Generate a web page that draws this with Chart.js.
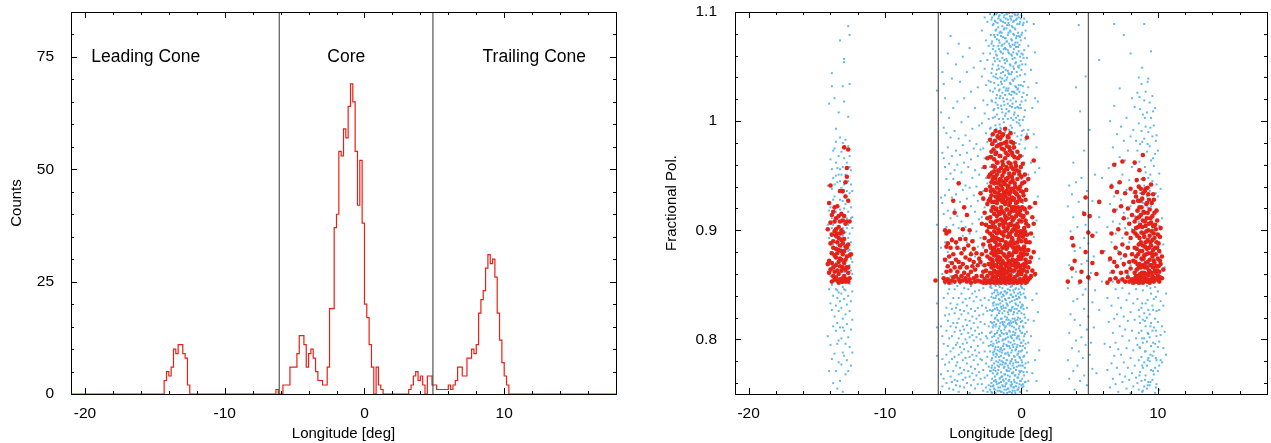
<!DOCTYPE html>
<html lang="en">
<head>
    <meta charset="UTF-8">
    <title>Longitude distribution and fractional polarisation</title>
    <script src="https://cdn.jsdelivr.net/npm/chart.js"></script>
    <style>
        body { margin: 0; background: #fff; }
        canvas { position: absolute; top: 0; }
        #histChart { left: 0; }
        #polChart { left: 636px; }
    </style>
</head>
<body>
    <canvas id="histChart" width="636" height="443"></canvas>
    <canvas id="polChart" width="635" height="443"></canvas>

    <script>
        // ---- data ----
        // histogram: bins of 1/6 deg, bin index k covers [k/6, (k+1)/6]
        const binWidth = 1 / 6;
        const leadFirstBin = -86;
        const leadCounts = [3, 5, 4, 6, 10, 9, 11, 11, 9, 8, 2, 0];
        const coreFirstBin = -38;
        const coreCounts = [1, 0, 0, 2, 2, 2, 6, 6, 6, 9, 13, 13, 11, 6, 9, 10, 8, 5, 3, 3,
                            2, 2, 6, 19, 19, 37, 40, 54, 53, 59, 57, 64, 69, 65, 54, 42, 52, 38, 20, 17,
                            11, 6, 0, 6, 2, 1, 0];
        const trailFirstBin = 19;
        const trailCounts = [1, 2, 4, 5, 3, 4, 2, 0, 4, 4, 2, 2, 1, 1, 1, 1, 1, 2, 1, 2,
                             3, 6, 6, 4, 4, 8, 8, 10, 9, 11, 18, 21, 23, 28, 31, 29, 30, 26, 18, 12,
                             7, 4, 2, 0];

        const dividerLon = [-6.1, 4.9];
        const regionNames = ["Leading Cone", "Core", "Trailing Cone"];
        const regionLon = [-15.65, -1.3, 12.15];
        const regionCount = 75;

        const lonTicks = [-20, -10, 0, 10];
        const lonMinorTicks = [-18, -16, -14, -12, -8, -6, -4, -2, 2, 4, 6, 8, 12, 14, 16];
        const countTicks = [0, 25, 50, 75];
        const countMinorTicks = [5, 10, 15, 20, 30, 35, 40, 45, 55, 60, 65, 70, 80, 85];
        const polTicks = [0.8, 0.9, 1.0, 1.1];
        const polTickLabels = ["0.8", "0.9", "1", "1.1"];
        const polMinorTicks = [0.76, 0.78, 0.82, 0.84, 0.86, 0.88, 0.92, 0.94, 0.96, 0.98, 1.02, 1.04, 1.06, 1.08];

        // scatter: "longitude: pol pol pol ..." with pol in thousandths
        const blueLead = [
            "-14.2: 862 905 941 803",
            "-14.1: 872 893 1016 771 918 846",
            "-14.0: 921 880 833 965 795 858 897",
            "-13.9: 1044 1032 938 911 864 827 782 850 902 956",
            "-13.8: 948 887 869 812 840 928 760 905 973",
            "-13.7: 1021 975 931 896 853 821 878 942 787 907 866",
            "-13.6: 993 962 917 884 846 808 831 893 950 771 870 981",
            "-13.5: 957 923 901 875 838 815 862 944 796 887 910 845 755",
            "-13.4: 1008 968 935 912 882 859 826 799 874 951 903 843 779",
            "-13.3: 1074 985 945 919 891 867 835 811 762 928 897 853 880 956",
            "-13.2: 972 939 908 884 856 829 801 777 915 866 893 951 842",
            "-13.1: 1032 980 958 927 902 877 848 819 788 752 895 870 934 811",
            "-13.0: 1057 1054 1018 966 942 913 889 862 837 808 785 920 872 899 846",
            "-12.9: 983 951 924 898 873 845 823 796 768 932 907 862 880",
            "-12.8: 962 936 911 887 861 832 814 781 949 902 874 853",
            "-12.7: 1087 1004 977 945 917 893 866 840 802 771 928 881 905",
            "-12.6: 1079 1034 968 934 908 882 851 826 793 958 897 868",
            "-12.5: 955 921 889 863 835 809 776 942 874 911",
            "-12.4: 936 902 871 844 818 788 912 860"
        ];
        const blueCoreLeft = [
            "-6.2: 1028 905 833 811 785",
            "-5.9: 1008 930 884 812 768",
            "-5.8: 1045 971 925 860 803 782 757",
            "-5.7: 1034 994 966 915 874 838 796 764",
            "-5.6: 1021 958 932 889 851 822 777",
            "-5.5: 989 947 903 866 829 808 786 760",
            "-5.4: 1062 976 918 880 842 817 794 771",
            "-5.3: 1003 961 937 871 846 823 801 779 755",
            "-5.2: 1078 985 952 911 858 833 812 789 766",
            "-5.1: 1039 968 930 893 851 828 803 782 761",
            "-5.0: 1012 947 905 869 838 815 792 771 754",
            "-4.9: 991 955 919 874 846 824 807 784 763",
            "-4.8: 1052 973 933 887 856 829 811 795 776 758",
            "-4.7: 1018 960 913 871 849 832 815 797 779 762",
            "-4.6: 1071 984 944 902 862 838 819 801 786 768 752",
            "-4.5: 1036 969 926 883 851 827 808 793 774 757",
            "-4.4: 999 953 908 867 842 823 805 788 769",
            "-4.3: 1059 978 937 895 858 834 812 796 781 763",
            "-4.2: 1021 962 921 881 847 826 809 791 772 756",
            "-4.1: 987 941 903 866 837 818 800 783 765",
            "-4.0: 1045 971 929 889 853 831 813 797 778 760",
            "-3.9: 1004 958 914 873 846 824 806 789 771",
            "-3.8: 1067 982 939 897 861 838 817 802 784 766 751",
            "-3.7: 1027 965 922 880 849 828 810 793 775 758",
            "-3.6: 993 948 906 868 842 821 804 786 769",
            "-3.5: 1049 975 932 891 857 835 815 799 781 763",
            "-3.4: 1012 955 917 876 844 826 808 790 773 755",
            "-3.3: 979 940 899 864 839 819 802 785 767",
            "-3.2: 1031 968 927 885 852 829 811 794 777 759",
            "-3.1: 996 951 910 871 845 822 805 788 770",
            "-3.0: 1055 974 934 893 859 836 816 800 782 764"
        ];
        const blueCore = [
            "-2.9: 1083 1041 998 957 912 868 831 806 781 759",
            "-2.8: 1062 1019 975 936 884 847 823 797 772 753",
            "-2.7: 1095 1048 1007 966 921 862 838 814 789 765",
            "-2.6: 1074 1033 989 948 899 855 829 803 778 756",
            "-2.5: 1091 1056 1015 981 943 876 851 826 801 784 767 752",
            "-2.4: 1069 1037 1002 968 927 859 836 812 794 775 758",
            "-2.3: 1098 1062 1028 993 958 871 848 827 806 789 771 754",
            "-2.2: 1093 1071 1044 1019 986 952 913 861 847 839 822 807 798 781 774 760 752",
            "-2.1: 1088 1066 1052 1027 1003 968 931 864 852 833 827 811 794 788 769 757",
            "-2.0: 1097 1079 1058 1035 1011 979 858 843 834 816 803 789 778 762 755",
            "-1.9: 1091 1083 1064 1040 1017 996 973 862 849 838 820 812 793 784 771 763 751",
            "-1.8: 1099 1075 1060 1047 1024 1006 981 962 857 845 829 822 806 797 786 768 759",
            "-1.7: 1094 1086 1069 1051 1033 1012 988 863 854 841 832 817 801 793 779 772 756",
            "-1.6: 1097 1081 1072 1055 1029 1021 997 978 859 848 836 826 812 804 789 781 764 753",
            "-1.5: 1092 1078 1063 1044 1036 1014 993 864 851 843 830 819 808 792 785 770 761 752",
            "-1.4: 1099 1087 1070 1058 1039 1026 1008 985 856 847 835 824 816 799 790 777 766 758",
            "-1.3: 1095 1084 1066 1049 1031 1018 999 980 861 852 840 829 813 805 796 783 774 762 751",
            "-1.2: 1090 1076 1067 1053 1042 1024 1005 990 858 844 837 821 811 800 787 778 768 757",
            "-1.1: 1098 1085 1073 1057 1038 1030 1011 984 863 850 842 833 818 806 795 781 772 760 754",
            "-1.0: 1093 1079 1065 1046 1028 1016 1002 977 857 846 831 825 814 802 788 776 767 755",
            "-0.9: 1099 1088 1071 1062 1043 1025 1009 992 860 853 838 827 815 808 794 785 771 763 752",
            "-0.8: 1094 1082 1068 1051 1034 1019 996 982 862 848 841 826 817 803 797 780 773 758",
            "-0.7: 1096 1087 1074 1060 1045 1027 1013 994 856 849 835 829 812 801 790 782 769 759 751",
            "-0.6: 1091 1080 1063 1050 1037 1021 1001 974 861 845 839 823 816 807 793 778 770 756",
            "-0.5: 1098 1085 1070 1058 1039 1026 1008 989 858 851 836 828 819 804 796 784 767 761 753",
            "-0.4: 1093 1076 1068 1054 1031 1018 1003 980 863 847 840 832 815 809 791 779 772 757",
            "-0.3: 1097 1089 1072 1061 1041 1029 1013 986 859 852 837 824 818 802 795 786 765 754",
            "-0.2: 1095 1078 1064 1049 1033 1012 998 971 860 846 839 826 810 803 789 776 768 756",
            "-0.1: 1091 1077 1059 1042 1015 996 953 857 843 834 819 808 794 783 770 762 752",
            "0.0: 1097 1079 1062 1047 1018 987 947 861 848 830 824 806 797 781 771 758",
            "0.1: 1088 1061 1032 1001 968 925 853 831 812 794 776 759",
            "0.2: 1094 1065 1036 1004 962 903 846 823 803 785 767",
            "0.3: 1083 1052 1019 983 937 881 838 815 796 778 761",
            "0.4: 1091 1058 1024 988 945 872 829 807 788 770 753",
            "0.5: 1069 1031 992 951 897 852 818 797 779 762",
            "0.7: 1047 962 871 803",
            "0.8: 1012 921 836 769",
            "0.9: 1089 988 894 817",
            "1.0: 1063 1021 953 858 781",
            "1.1: 1035 976 909 842 762",
            "1.2: 1018 931 825",
            "1.3: 957 874 790"
        ];
        // in-between columns where the core band is densest
        const blueCoreFill = [
            "-2.25: 1079 1036 994 849 816 795 771 757",
            "-2.15: 1095 1073 1048 1018 981 855 842 826 815 802 783 776 764 751",
            "-2.05: 1089 1069 1041 1010 975 859 838 831 813 796 786 772 758",
            "-1.95: 1092 1077 1055 1030 1004 853 845 828 819 805 791 774 766 754",
            "-1.85: 1098 1084 1061 1043 1021 993 857 840 832 814 799 787 780 761",
            "-1.75: 1090 1079 1057 1039 1015 855 843 827 818 808 790 776 769 753",
            "-1.65: 1096 1074 1066 1048 1028 1002 850 837 824 810 798 784 775 760",
            "-1.55: 1093 1082 1064 1040 1023 994 854 842 833 815 803 791 777 765 756",
            "-1.45: 1099 1081 1069 1050 1034 1011 858 839 828 819 806 788 780 766 752",
            "-1.35: 1091 1077 1062 1045 1021 1002 852 841 831 814 800 794 779 763 757",
            "-1.25: 1097 1085 1071 1056 1037 1015 855 844 826 816 809 791 775 768 754",
            "-1.15: 1094 1076 1066 1047 1028 1007 851 836 829 812 801 787 778 764 759",
            "-1.05: 1098 1088 1073 1055 1040 1020 857 843 832 820 805 794 781 771 751",
            "-0.95: 1090 1081 1063 1044 1030 1009 853 838 823 818 798 786 774 762 755",
            "-0.85: 1096 1083 1069 1052 1035 1014 858 845 834 813 807 792 778 766 752",
            "-0.75: 1093 1075 1061 1043 1024 1003 850 841 827 815 802 788 780 761 757",
            "-0.65: 1099 1086 1070 1057 1038 1016 855 839 830 819 804 795 776 769 753",
            "-0.55: 1092 1079 1066 1048 1027 1006 852 843 825 811 799 785 774 763 756",
            "-0.45: 1097 1084 1072 1053 1032 1012 857 846 833 817 806 790 781 767 751",
            "-0.35: 1094 1078 1062 1045 1025 999 851 837 828 814 801 793 775 760",
            "-0.25: 1098 1081 1068 1050 1030 1005 856 842 831 820 803 787 779 765 754",
            "-0.15: 1089 1070 1051 1027 1001 979 853 838 826 812 800 784 771 759",
            "-0.05: 1094 1074 1055 1033 1012 983 849 841 829 816 797 789 776 762 752",
            "0.05: 1081 1052 1022 991 847 832 817 806 790 779 764 756",
            "0.15: 1090 1058 1026 992 842 828 811 799 784 770 757",
            "0.25: 1076 1043 1010 975 839 820 805 792 774 761"
        ];
        const blueMid = [
            "3.4: 922 847 781", "3.5: 941 868 806 764", "3.6: 899 823", "3.7: 933 857 792",
            "3.8: 962 912 835 771", "3.9: 881 818 754", "4.0: 1031 944 862 799", "4.1: 903 837 776",
            "4.2: 1088 926 851 789", "4.3: 1009 884 813 762", "4.4: 948 869 802", "4.5: 917 841 783",
            "4.6: 973 893 828 767", "4.7: 1041 905 846 795", "4.8: 936 872 809 758", "4.9: 888 821",
            "5.0: 992 914 855 786", "5.1: 861 797", "5.2: 927 834 773", "5.3: 876 811",
            "5.4: 951 845", "5.5: 898 769", "5.7: 1056 912 827", "5.9: 948 853", "6.1: 881 796"
        ];
        const blueTrail = [
            "6.3: 903 838 772",
            "6.4: 957 872 816",
            "6.5: 1000 924 861 793 756",
            "6.6: 942 889 831 778",
            "6.7: 976 908 853 806 764",
            "6.8: 1089 1014 931 872 819 785",
            "6.9: 961 897 846 797 759",
            "7.0: 988 919 866 823 774",
            "7.1: 943 881 838 791 752",
            "7.2: 1030 967 906 855 812 768",
            "7.3: 995 928 874 829 786",
            "7.4: 951 893 847 803 761",
            "7.5: 1079 982 916 867 821 779",
            "7.6: 964 902 852 809 766",
            "7.7: 1003 937 884 836 792 755",
            "7.8: 973 911 860 817 774",
            "7.9: 946 889 842 799 763",
            "8.0: 1062 986 922 868 825 783 751",
            "8.1: 1021 958 901 851 808 769",
            "8.2: 992 934 879 833 790 757",
            "8.3: 1013 961 913 862 818 776",
            "8.4: 982 945 894 846 801 765",
            "8.5: 1026 973 929 877 837 795 760",
            "8.6: 1040 998 956 908 869 827 806 781 754",
            "8.65: 1022 963 918 858 821 793 767",
            "8.7: 1011 979 934 887 851 815 792 770",
            "8.8: 1034 991 947 903 862 829 808 784 762",
            "8.85: 1049 981 926 872 833 801 776 752",
            "8.9: 1006 968 925 881 845 818 797 774 753",
            "9.0: 1089 1019 984 941 896 858 824 801 779 757",
            "9.05: 1003 958 903 853 817 789 763",
            "9.1: 1027 995 953 912 866 833 812 789 767",
            "9.2: 1008 972 931 889 849 820 798 776 755",
            "9.25: 1036 979 921 869 836 806 781 758",
            "9.3: 1039 990 948 905 861 827 805 783 761",
            "9.4: 1017 977 936 893 854 823 802 780 758",
            "9.45: 994 951 899 847 812 786 761",
            "9.5: 1064 1003 964 922 880 842 815 794 772",
            "9.6: 1023 986 945 901 858 831 808 785 763",
            "9.65: 1009 966 914 862 827 797 771",
            "9.7: 996 959 917 874 837 811 789 768",
            "9.8: 1012 970 928 884 848 819 796 774 751",
            "9.85: 982 934 877 839 808 783 756",
            "9.9: 987 942 897 856 826 803 781 759",
            "10.0: 973 931 886 844 816 793 771",
            "10.1: 952 904 859 827 798 776 754",
            "10.2: 938 879 835 804 781",
            "10.3: 911 857 812 779",
            "10.4: 887 831 792",
            "10.5: 866 807",
            "10.6: 842 786"
        ];

        const redLead = [
            "-14.2: 901 869",
            "-14.1: 925 872 861",
            "-14.0: 941 907 888 864",
            "-13.9: 914 896 879 853 870",
            "-13.8: 917 890 866 858 884",
            "-13.7: 921 899 877 862 855 908",
            "-13.6: 911 895 883 868 857 901 875",
            "-13.5: 922 897 879 863 854 889",
            "-13.4: 913 893 871 860 852 882 903",
            "-13.3: 936 908 886 867 855 897 874",
            "-13.2: 915 900 881 863 853 873 891",
            "-13.1: 936 909 888 866 856 878 898 853",
            "-13.0: 976 913 892 870 858 854 881",
            "-12.9: 944 931 906 885 864 853 873",
            "-12.8: 957 949 908 884 866 855 876",
            "-12.7: 974 927 887 866 853 861",
            "-12.6: 908 877 856",
            "-12.5: 878"
        ];
        const redCoreLeft = [
            "-6.3: 854", "-5.7: 856", "-5.6: 900 873 853", "-5.5: 897 885 862", "-5.4: 888 867 855",
            "-5.3: 899 876 852", "-5.2: 884 863", "-5.1: 870 854 891", "-5.0: 927 857 878",
            "-4.9: 916 866 853", "-4.8: 873 858 889", "-4.7: 862 884", "-4.6: 943 871 855",
            "-4.5: 892 866 853", "-4.4: 879 858", "-4.3: 901 869 854", "-4.2: 921 883 861",
            "-4.1: 875 856 892", "-4.0: 914 866 853", "-3.9: 886 859", "-3.8: 900 873 855",
            "-3.7: 878 862 852", "-3.6: 890 867", "-3.5: 871 856 883", "-3.4: 864 853",
            "-3.3: 879 858", "-3.2: 868 854", "-3.1: 874"
        ];
        const redCore = [
            "-3.0: 934 871 853",
            "-2.9: 906 878 858",
            "-2.8: 929 887 862 852",
            "-2.7: 958 916 893 868 855",
            "-2.6: 937 905 881 863 852",
            "-2.5: 966 924 899 876 858 911",
            "-2.4: 949 927 890 869 854 903",
            "-2.3: 983 951 929 897 874 861 852 912 940 886",
            "-2.2: 972 944 918 903 879 866 855 891 932",
            "-2.1: 988 959 937 921 894 871 858 853 906 947 882",
            "-2.0: 965 943 926 899 884 863 852 915 877 954",
            "-1.9: 991 970 948 931 908 889 868 857 919 879 853",
            "-1.8: 977 962 939 913 897 873 861 852 925 886 951",
            "-1.7: 985 955 934 917 901 882 866 854 943 892 871",
            "-1.6: 990 968 946 928 905 887 875 859 853 915 937",
            "-1.5: 979 957 941 921 898 880 863 856 910 869 852 932",
            "-1.4: 987 963 950 926 909 891 872 858 853 938 884",
            "-1.3: 974 953 935 916 895 878 864 855 903 944 870",
            "-1.2: 993 966 942 924 907 886 869 857 852 931 913",
            "-1.1: 981 958 936 919 900 883 867 854 946 875",
            "-1.0: 986 969 948 929 911 894 876 862 853 939 902",
            "-0.9: 976 952 933 915 897 879 865 856 923 887 852",
            "-0.8: 989 961 944 927 906 889 871 859 853 935 917",
            "-0.7: 971 949 930 912 893 877 863 855 920 899",
            "-0.6: 980 956 938 918 901 884 868 852 928",
            "-0.5: 967 943 921 904 888 872 857 853 935",
            "-0.4: 959 934 913 896 880 866 854 925",
            "-0.3: 972 947 926 906 889 873 859 852",
            "-0.2: 954 931 915 892 876 862 853",
            "-0.1: 968 940 918 899 883 867 855",
            "0.0: 949 927 908 890 874 860 852",
            "0.1: 961 935 912 894 877 863 854",
            "0.2: 944 920 902 885 869 856",
            "0.3: 928 909 891 873 858 852",
            "0.4: 985 916 896 878 862 853",
            "0.5: 947 904 882 866 855",
            "0.6: 921 889 871 856",
            "0.7: 897 875 858",
            "0.8: 912 863",
            "0.9: 964 906 880",
            "1.0: 925 860"
        ];
        const redCoreFill = [
            "-2.25: 967 936 908 884 869",
            "-2.15: 979 953 926 895 873 860",
            "-2.05: 974 949 921 891 867 857",
            "-1.95: 982 958 935 903 881 862",
            "-1.85: 971 944 920 893 868 856",
            "-1.75: 986 962 928 909 876 859",
            "-1.65: 978 954 931 899 880 862",
            "-1.55: 984 968 947 916 891 874",
            "-1.45: 975 945 918 897 866 861",
            "-1.35: 988 960 929 906 884 859",
            "-1.25: 980 955 933 899 877 864",
            "-1.15: 971 947 926 910 889 861",
            "-1.05: 977 956 935 919 884 869",
            "-0.95: 985 962 941 905 872 858",
            "-0.85: 973 950 925 896 878 864",
            "-0.75: 981 958 938 905 886 868",
            "-0.65: 969 946 921 909 891 873",
            "-0.55: 976 952 929 911 880 863",
            "-0.45: 962 940 920 902 884 870",
            "-0.35: 955 933 917 899 881 866",
            "-0.25: 966 938 921 903 885 869",
            "-0.15: 951 929 909 895 874 860",
            "-0.05: 958 936 914 896 879 864",
            "0.05: 943 921 899 883 868",
            "0.15: 932 913 896 879 864",
            "0.25: 951 919 899 882 867",
            "0.35: 937 906 889 870"
        ];
        const redMid = [
            "3.4: 853", "3.7: 893 865", "3.8: 886", "3.9: 872", "4.3: 853", "4.4: 862", "4.6: 915",
            "4.7: 930 880", "4.9: 898 857", "5.0: 913", "5.2: 895 870", "5.5: 860", "5.7: 926",
            "5.9: 880", "6.3: 852"
        ];
        const redTrail = [
            "6.5: 874 855", "6.6: 940 897", "6.7: 862", "6.8: 960 918 871", "6.9: 884 856",
            "7.0: 935 867", "7.1: 901 853", "7.2: 944 879", "7.3: 922 861", "7.4: 963 887 855",
            "7.5: 911 869", "7.6: 934 877 853", "7.7: 897 862", "7.8: 920 884 857",
            "7.9: 906 871 853", "8.0: 938 893 865", "8.1: 914 878 855", "8.2: 926 899 872 852",
            "8.3: 962 908 884 861", "8.4: 931 902 876 858 853", "8.5: 918 895 869 854",
            "8.6: 940 912 887 866 852", "8.7: 927 905 881 860", "8.8: 921 898 874 857 853",
            "8.9: 969 934 909 886 868 852", "9.0: 916 894 877 861 854", "9.1: 938 904 889 870 856",
            "9.2: 925 911 883 866 853", "9.3: 933 900 879 859", "9.4: 919 895 873 862 852",
            "9.5: 942 907 886 868 855", "9.6: 913 891 876 858", "9.7: 928 897 872 853",
            "9.8: 905 884 863", "9.9: 918 889 867 855", "10.0: 896 874 858", "10.1: 881 862 853",
            "10.2: 902 869", "10.3: 876 856", "10.4: 864",
            "8.35: 935 897 871 856", "8.45: 946 911 883 864", "8.55: 927 903 878 858",
            "8.65: 955 921 893 869 855", "8.75: 938 914 889 866", "8.85: 929 903 881 861",
            "8.95: 947 917 897 874 857", "9.05: 936 908 885 866", "9.15: 924 899 878 860",
            "9.25: 939 916 891 871 855", "9.35: 928 906 884 863", "9.45: 911 889 868 853",
            "9.55: 925 899 879 861", "9.65: 933 904 882 866", "9.75: 916 893 870 856",
            "9.85: 901 878 861", "9.95: 909 884 863", "10.05: 888 867 855", "10.15: 894 872 857"
        ];

        // ---- helpers ----
        const lonMin = -21, lonMax = 18;

        function histPoints() {
            const pts = [{x: lonMin, y: 0}];
            [[leadFirstBin, leadCounts], [coreFirstBin, coreCounts], [trailFirstBin, trailCounts]].forEach(([first, counts]) => {
                counts.forEach((c, i) => pts.push({x: (first + i) * binWidth, y: c}));
            });
            pts.push({x: lonMax, y: 0});
            return pts;
        }

        function colsToPoints(...groups) {
            const pts = [];
            groups.forEach(cols => cols.forEach(col => {
                const [lon, vals] = col.split(':');
                vals.trim().split(/\s+/).forEach(v => pts.push({x: parseFloat(lon), y: parseInt(v, 10) / 1000}));
            }));
            return pts;
        }

        // box with inward ticks on all four sides, like the original
        const frameTicks = {
            id: 'frameTicks',
            afterDatasetsDraw(chart, args, opts) {
                const {ctx, chartArea: a, scales: {x, y}} = chart;
                ctx.save();
                ctx.strokeStyle = '#000';
                ctx.lineWidth = 1;
                ctx.strokeRect(a.left + 0.5, a.top + 0.5, a.right - a.left, a.bottom - a.top);
                ctx.beginPath();
                const xt = (vals, len) => vals.forEach(v => {
                    const px = Math.round(x.getPixelForValue(v)) + 0.5;
                    ctx.moveTo(px, a.bottom); ctx.lineTo(px, a.bottom - len);
                    ctx.moveTo(px, a.top); ctx.lineTo(px, a.top + len);
                });
                const yt = (vals, len) => vals.forEach(v => {
                    const py = Math.round(y.getPixelForValue(v)) + 0.5;
                    ctx.moveTo(a.left, py); ctx.lineTo(a.left + len, py);
                    ctx.moveTo(a.right, py); ctx.lineTo(a.right - len, py);
                });
                xt(opts.xMajor, 6); xt(opts.xMinor, 3);
                yt(opts.yMajor, 6); yt(opts.yMinor, 3);
                ctx.stroke();
                ctx.restore();
            }
        };

        const regionLabels = {
            id: 'regionLabels',
            afterDatasetsDraw(chart) {
                const {ctx, scales: {x, y}} = chart;
                ctx.save();
                ctx.fillStyle = '#000';
                ctx.font = "17.5px 'Liberation Sans', Arial, sans-serif";
                ctx.textAlign = 'center';
                ctx.textBaseline = 'middle';
                regionNames.forEach((name, i) => {
                    ctx.fillText(name, x.getPixelForValue(regionLon[i]), y.getPixelForValue(regionCount));
                });
                ctx.restore();
            }
        };

        Chart.defaults.font.family = "'Liberation Sans', Arial, sans-serif";
        Chart.defaults.color = '#000';

        function lonAxis() {
            return {
                type: 'linear', min: lonMin, max: lonMax,
                afterBuildTicks: s => { s.ticks = lonTicks.map(v => ({value: v})); },
                afterFit: s => { s.height = 49; s.paddingLeft = 0; s.paddingRight = 0; },
                grid: {display: false},
                border: {display: false},
                ticks: {font: {size: 15.5}, padding: 2, maxRotation: 0, autoSkip: false, callback: v => String(v)},
                title: {display: true, text: 'Longitude [deg]', font: {size: 15}, padding: {top: 0, bottom: 0}}
            };
        }

        const dividerSets = (lo, hi) => dividerLon.map(v => ({
            type: 'line', data: [{x: v, y: lo}, {x: v, y: hi}],
            borderColor: '#333', borderWidth: 1, pointRadius: 0, order: -1
        }));

        new Chart(document.getElementById('histChart'), {
            type: 'line',
            data: {
                datasets: [
                    {data: histPoints(), borderColor: 'rgb(232,32,22)', borderWidth: 1.2, stepped: 'before',
                     pointRadius: 0, fill: false, order: 1},
                    ...dividerSets(0, 85)
                ]
            },
            options: {
                responsive: false, animation: false, devicePixelRatio: 1,
                layout: {padding: {top: 12, right: 20, left: 0, bottom: 0}},
                plugins: {
                    legend: {display: false}, tooltip: {enabled: false},
                    frameTicks: {xMajor: lonTicks, xMinor: lonMinorTicks, yMajor: countTicks, yMinor: countMinorTicks}
                },
                scales: {
                    x: lonAxis(),
                    y: {
                        min: 0, max: 85,
                        afterBuildTicks: s => { s.ticks = countTicks.map(v => ({value: v})); },
                        afterFit: s => { s.width = 71; s.paddingTop = 0; s.paddingBottom = 0; },
                        grid: {display: false}, border: {display: false},
                        ticks: {font: {size: 15.5}, padding: 9},
                        title: {display: true, text: 'Counts', font: {size: 15}, padding: {top: 8, bottom: 0}}
                    }
                }
            },
            plugins: [frameTicks, regionLabels]
        });

        new Chart(document.getElementById('polChart'), {
            type: 'scatter',
            data: {
                datasets: [
                    {data: colsToPoints(redLead, redCoreLeft, redCore, redCoreFill, redMid, redTrail),
                     pointStyle: 'circle', pointRadius: 2.3, borderWidth: 0,
                     backgroundColor: 'rgb(228,34,24)', order: 0},
                    {data: colsToPoints(blueLead, blueCoreLeft, blueCore, blueCoreFill, blueMid, blueTrail),
                     pointStyle: 'rect', pointRadius: 1.4, borderWidth: 0,
                     backgroundColor: 'rgb(96,184,234)', order: 1},
                    ...dividerSets(0.75, 1.1)
                ]
            },
            options: {
                responsive: false, animation: false, devicePixelRatio: 1,
                layout: {padding: {top: 12, right: 1, left: 0, bottom: 0}},
                plugins: {
                    legend: {display: false}, tooltip: {enabled: false},
                    frameTicks: {xMajor: lonTicks, xMinor: lonMinorTicks, yMajor: polTicks, yMinor: polMinorTicks}
                },
                scales: {
                    x: lonAxis(),
                    y: {
                        min: 0.75, max: 1.1,
                        afterBuildTicks: s => { s.ticks = polTicks.map(v => ({value: v})); },
                        afterFit: s => { s.width = 99; s.paddingTop = 0; s.paddingBottom = 0; },
                        grid: {display: false}, border: {display: false},
                        ticks: {font: {size: 15.5}, padding: 10, callback: (v, i) => polTickLabels[i]},
                        title: {display: true, text: 'Fractional Pol.', font: {size: 15}, padding: {top: 27, bottom: 0}}
                    }
                }
            },
            plugins: [frameTicks]
        });
    </script>
</body>
</html>
